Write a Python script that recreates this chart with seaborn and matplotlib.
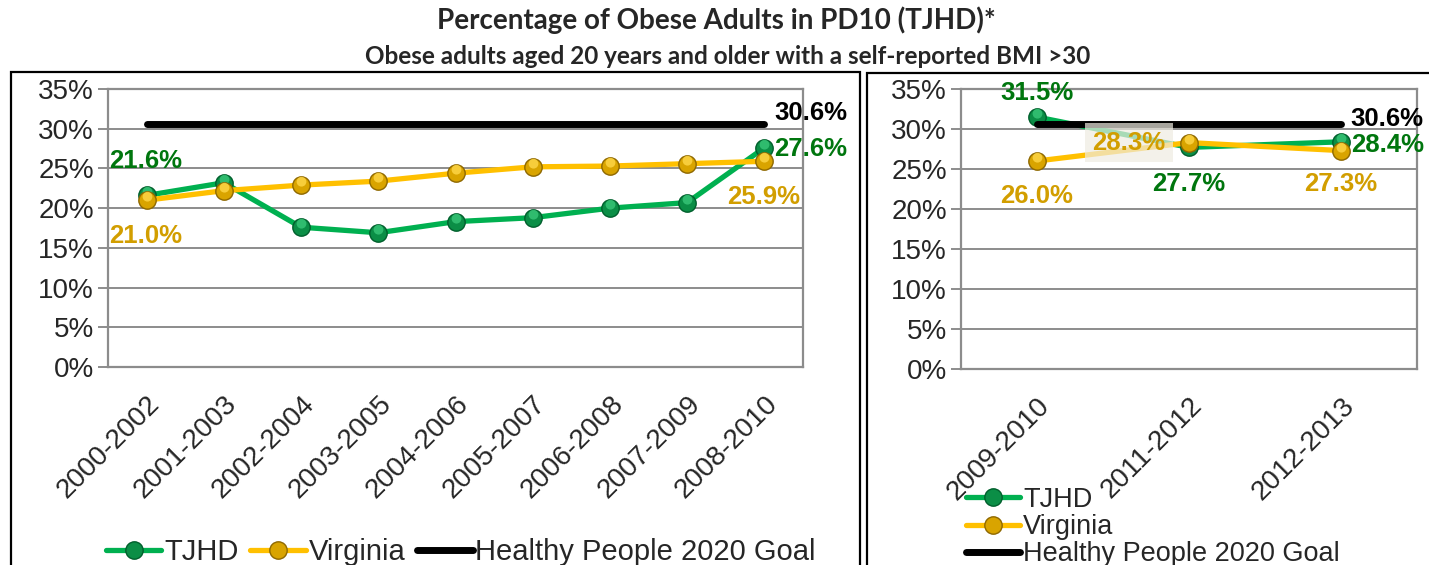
import matplotlib
matplotlib.use('Agg')
import matplotlib.pyplot as plt
import seaborn as sns
import pandas as pd
import numpy as np
from matplotlib.ticker import PercentFormatter, FixedLocator
from matplotlib.patches import Rectangle
from matplotlib.path import Path

# --- data ---
periods_a = ['2000-2002', '2001-2003', '2002-2004', '2003-2005', '2004-2006',
             '2005-2007', '2006-2008', '2007-2009', '2008-2010']
tjhd_a = [21.6, 23.2, 17.6, 16.9, 18.3, 18.8, 20.0, 20.7, 27.6]
virginia_a = [21.0, 22.2, 22.9, 23.4, 24.4, 25.2, 25.3, 25.6, 25.9]
goal_a = [30.6] * len(periods_a)

periods_b = ['2009-2010', '2011-2012', '2012-2013']
tjhd_b = [31.5, 27.7, 28.4]
virginia_b = [26.0, 28.3, 27.3]
goal_b = [30.6] * len(periods_b)

series_names = ['TJHD', 'Virginia', 'Healthy People 2020 Goal']

sns.set_style('white')
plt.rcParams['font.family'] = ['Liberation Sans', 'DejaVu Sans']

W, H = 1429, 565
fig = plt.figure(figsize=(W / 100, H / 100), dpi=100)

GREEN = '#00B050'
GREEN_MK = '#0B8E46'
GREEN_EDGE = '#005F2C'
GREEN_HI = '#3CCB7C'
GOLD = '#FFC000'
GOLD_MK = '#D9A400'
GOLD_EDGE = '#8E6800'
GOLD_HI = '#FFD84A'
GREEN_TXT = '#00760E'
GOLD_TXT = '#D29E00'
GRID = '#8c8c8c'

# small glossy spot drawn on top of each marker, sitting above its centre
HIGHLIGHT = Path.circle((0, 0.35), 0.45)


def px(v):
    # pixel offset -> points
    return v * 0.72


def draw_panel(ax, periods, tjhd, virginia, goal):
    df = pd.DataFrame({'pos': np.arange(len(periods)), 'period': periods,
                       'TJHD': tjhd, 'Virginia': virginia, 'Goal': goal})
    sns.lineplot(data=df, x='pos', y='TJHD', ax=ax, color=GREEN, lw=3.8,
                 marker='o', markersize=12.5, markerfacecolor=GREEN_MK,
                 markeredgecolor=GREEN_EDGE, markeredgewidth=1.0,
                 label=series_names[0], zorder=3)
    sns.lineplot(data=df, x='pos', y='TJHD', ax=ax, lw=0, marker=HIGHLIGHT,
                 markersize=12.5, markerfacecolor=GREEN_HI, markeredgewidth=0,
                 alpha=0.75, zorder=3.1, legend=False)
    sns.lineplot(data=df, x='pos', y='Virginia', ax=ax, color=GOLD, lw=3.8,
                 marker='o', markersize=12.5, markerfacecolor=GOLD_MK,
                 markeredgecolor=GOLD_EDGE, markeredgewidth=1.0,
                 label=series_names[1], zorder=4)
    sns.lineplot(data=df, x='pos', y='Virginia', ax=ax, lw=0, marker=HIGHLIGHT,
                 markersize=12.5, markerfacecolor=GOLD_HI, markeredgewidth=0,
                 alpha=0.8, zorder=4.1, legend=False)
    sns.lineplot(data=df, x='pos', y='Goal', ax=ax, color='black', lw=5,
                 solid_capstyle='round', label=series_names[2], zorder=5)

    n = len(periods)
    ax.set_xlim(-0.5, n - 0.5)
    ax.set_ylim(0, 35)
    ax.set_yticks(np.arange(0, 36, 5))
    ax.yaxis.set_major_formatter(PercentFormatter(xmax=100, decimals=0))
    ax.set_xticks(np.arange(n))
    ax.set_xticklabels(periods, rotation=45, ha='right', va='top',
                       rotation_mode='anchor')
    ax.xaxis.set_minor_locator(FixedLocator(np.arange(n + 1) - 0.5))
    ax.tick_params(axis='x', which='major', length=0, labelsize=20, pad=17)
    ax.tick_params(axis='x', which='minor', length=7, width=1.4, color=GRID,
                   direction='out')
    ax.tick_params(axis='y', length=7, width=1.4, color=GRID, labelsize=20,
                   pad=3, left=True)
    ax.yaxis.grid(True, color=GRID, lw=1.4)
    ax.xaxis.grid(False)
    ax.set_axisbelow(True)
    for s in ax.spines.values():
        s.set_visible(True)
        s.set_color(GRID)
        s.set_linewidth(1.6)
    ax.set_xlabel('')
    ax.set_ylabel('')
    return df


def label(ax, x, y, text, color, dx, dy, ha='center', **kw):
    ax.annotate(text, xy=(x, y), xytext=(px(dx), px(dy)),
                textcoords='offset points', ha=ha, va='center',
                fontsize=18.5, fontweight='bold', color=color, zorder=7, **kw)


# --- left panel ---
ax1 = fig.add_axes([108 / W, 1 - 367 / H, (803 - 108) / W, (367 - 89) / H])
draw_panel(ax1, periods_a, tjhd_a, virginia_a, goal_a)
last = len(periods_a) - 1
label(ax1, 0, tjhd_a[0], f'{tjhd_a[0]:.1f}%', GREEN_TXT, -37, 34, ha='left')
label(ax1, 0, virginia_a[0], f'{virginia_a[0]:.1f}%', GOLD_TXT, -37, -36, ha='left')
label(ax1, last, tjhd_a[last], f'{tjhd_a[last]:.1f}%', GREEN_TXT, 10, -1, ha='left')
label(ax1, last, virginia_a[last], f'{virginia_a[last]:.1f}%', GOLD_TXT, 36, -36, ha='right')
label(ax1, last, goal_a[last], f'{goal_a[last]:.1f}%', 'black', 10, 11, ha='left')

h, l = ax1.get_legend_handles_labels()
ax1.legend(h, l, loc='center', bbox_to_anchor=(461 / W, 1 - 552 / H),
           bbox_transform=fig.transFigure, ncol=3, frameon=False, fontsize=21,
           handlelength=1.9, handletextpad=0.1, columnspacing=0.4,
           borderpad=0, borderaxespad=0)

# --- right panel ---
ax2 = fig.add_axes([961 / W, 1 - 369 / H, (1417 - 961) / W, (369 - 89) / H])
draw_panel(ax2, periods_b, tjhd_b, virginia_b, goal_b)
label(ax2, 0, tjhd_b[0], f'{tjhd_b[0]:.1f}%', GREEN_TXT, 0, 24)
label(ax2, 0, virginia_b[0], f'{virginia_b[0]:.1f}%', GOLD_TXT, 0, -35)
label(ax2, 1, tjhd_b[1], f'{tjhd_b[1]:.1f}%', GREEN_TXT, 0, -37)
label(ax2, 1, virginia_b[1], f'{virginia_b[1]:.1f}%', GOLD_TXT, -60, 0,
      bbox=dict(boxstyle='square,pad=0.3', fc='#EFECE2', ec='none', alpha=0.7))
label(ax2, 2, virginia_b[2], f'{virginia_b[2]:.1f}%', GOLD_TXT, 0, -33)
label(ax2, 2, tjhd_b[2], f'{tjhd_b[2]:.1f}%', GREEN_TXT, 10, -3, ha='left')
label(ax2, 2, goal_b[2], f'{goal_b[2]:.1f}%', 'black', 9, 5, ha='left')

h, l = ax2.get_legend_handles_labels()
ax2.legend(h, l, loc='center left', bbox_to_anchor=(966 / W, 1 - 527 / H),
           bbox_transform=fig.transFigure, ncol=1, frameon=False, fontsize=19.5,
           handlelength=2.0, handletextpad=0.1, labelspacing=0.05,
           borderpad=0, borderaxespad=0)

# --- titles and panel frames ---
fig.text(716 / W, 1 - 20 / H, 'Percentage of Obese Adults in PD10 (TJHD)*',
         ha='center', va='center', fontsize=20, fontweight='bold',
         family=['Lato', 'DejaVu Sans'])
fig.text(728 / W, 1 - 57 / H,
         'Obese adults aged 20 years and older with a self-reported BMI >30',
         ha='center', va='center', fontsize=17.5, fontweight='bold',
         family=['Lato', 'DejaVu Sans'])

fig.add_artist(Rectangle((11 / W, -0.1), (860 - 11) / W, 1 - 72 / H + 0.1,
                         transform=fig.transFigure, fill=False, ec='black', lw=1.6))
fig.add_artist(Rectangle((867 / W, -0.1), (1440 - 867) / W, 1 - 73 / H + 0.1,
                         transform=fig.transFigure, fill=False, ec='black', lw=1.6))

fig.savefig('out.png', dpi=100)
